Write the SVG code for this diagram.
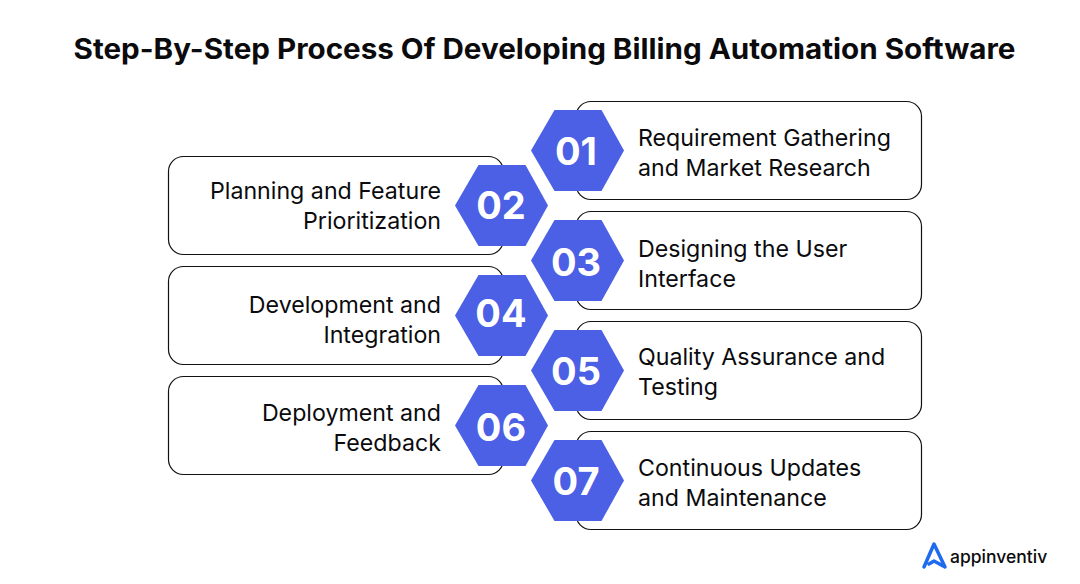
<svg xmlns="http://www.w3.org/2000/svg" width="1080" height="584" viewBox="0 0 1080 584">
<style>
text{font-family:"Inter","Liberation Sans",sans-serif;fill:#0b0b0d}
.t{font-size:28px;font-weight:700}
.b{font-size:23.200px;font-weight:400}
.r{text-anchor:end}
.n{font-size:38px;font-weight:700;fill:#fff;text-anchor:middle}
.c{fill:#fff;stroke:#111;stroke-width:1.200}
.h{fill:#4b60e5}
</style>
<defs><polygon id="hx" class="h" points="-46.500,0 -23,-40.500 24,-40.500 46.500,0 24,40.500 -23,40.500"/></defs>
<rect width="1080" height="584" fill="#fff"/>
<text id="title" class="t" x="544.500" y="59" text-anchor="middle" textLength="942" lengthAdjust="spacingAndGlyphs">Step-By-Step Process Of Developing Billing Automation Software</text>
<g id="connectors"></g>
<g id="step-01"><rect class="c" x="576" y="101.500" width="345.500" height="98" rx="15"/><use href="#hx" x="577.500" y="150.500"/><text class="n" x="576" y="165">01</text><text class="b" x="638" y="145.500">Requirement Gathering</text><text class="b" x="638" y="175.500">and Market Research</text></g>
<g id="step-02"><rect class="c" x="168.500" y="156.500" width="335" height="98" rx="15"/><use href="#hx" x="501.500" y="205.500"/><text class="n" x="501" y="219">02</text><text class="b r" x="441" y="198.500">Planning and Feature</text><text class="b r" x="441" y="228.500">Prioritization</text></g>
<g id="step-03"><rect class="c" x="576" y="211.500" width="345.500" height="98" rx="15"/><use href="#hx" x="577.500" y="260.500"/><text class="n" x="576" y="276">03</text><text class="b" x="638" y="256.500">Designing the User</text><text class="b" x="638" y="286.500">Interface</text></g>
<g id="step-04"><rect class="c" x="168.500" y="266.500" width="335" height="98" rx="15"/><use href="#hx" x="501.500" y="315.500"/><text class="n" x="501" y="327">04</text><text class="b r" x="441" y="312.500">Development and</text><text class="b r" x="441" y="342.500">Integration</text></g>
<g id="step-05"><rect class="c" x="576" y="321.500" width="345.500" height="98" rx="15"/><use href="#hx" x="577.500" y="370.500"/><text class="n" x="576" y="385">05</text><text class="b" x="638" y="364.500">Quality Assurance and</text><text class="b" x="638" y="394.500">Testing</text></g>
<g id="step-06"><rect class="c" x="168.500" y="376.500" width="335" height="98" rx="15"/><use href="#hx" x="501.500" y="425.500"/><text class="n" x="501" y="441">06</text><text class="b r" x="441" y="420.500">Deployment and</text><text class="b r" x="441" y="450.500">Feedback</text></g>
<g id="step-07"><rect class="c" x="576" y="431.500" width="345.500" height="98" rx="15"/><use href="#hx" x="577.500" y="480.500"/><text class="n" x="576" y="495">07</text><text class="b" x="638" y="475.500">Continuous Updates</text><text class="b" x="638" y="505.500">and Maintenance</text></g>
<g id="logo"><path d="M924 567 L934 544 L945 567 L934 561 L929 564" fill="none" stroke="#1f6bf0" stroke-width="3.500" stroke-linejoin="round" stroke-linecap="round"/><text x="950" y="563" font-size="17.500" font-weight="500">appinventiv</text></g>
</svg>
